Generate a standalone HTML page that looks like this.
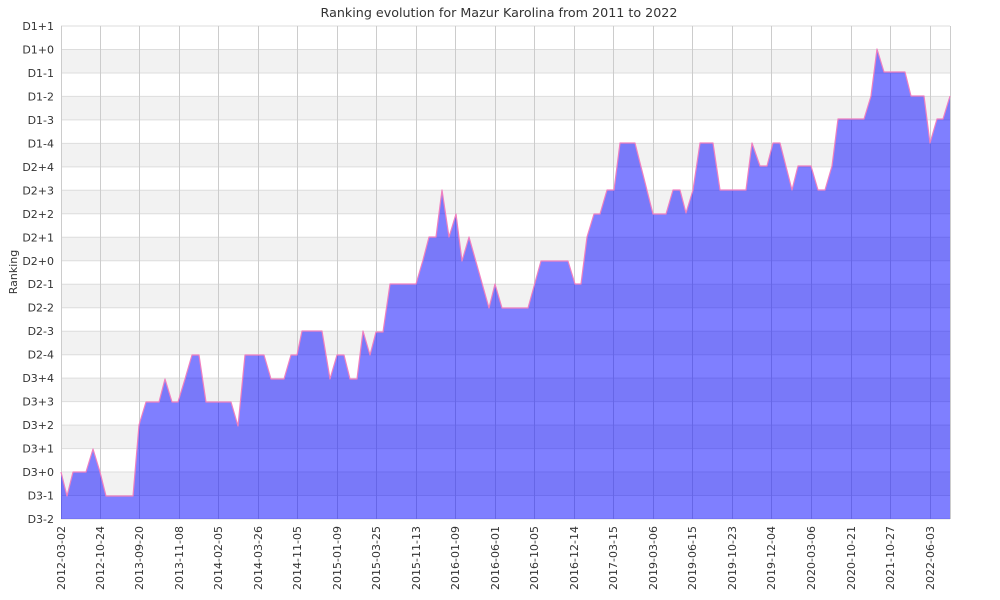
<!DOCTYPE html>
<html><head><meta charset="utf-8"><style>body{margin:0;background:#fff}svg{display:block;font-family:"DejaVu Sans",sans-serif}</style></head><body>
<svg width="1000" height="600" xmlns="http://www.w3.org/2000/svg">
<rect width="1000" height="600" fill="#fff"/>
<text x="499" y="17" font-size="12.7" text-anchor="middle" fill="#333">Ranking evolution for Mazur Karolina from 2011 to 2022</text>
<g fill="#f2f2f2">
<rect x="61" y="49.5" width="889" height="23.5"/><rect x="61" y="96.4" width="889" height="23.5"/><rect x="61" y="143.4" width="889" height="23.5"/><rect x="61" y="190.3" width="889" height="23.5"/><rect x="61" y="237.3" width="889" height="23.5"/><rect x="61" y="284.2" width="889" height="23.5"/><rect x="61" y="331.2" width="889" height="23.5"/><rect x="61" y="378.1" width="889" height="23.5"/><rect x="61" y="425.1" width="889" height="23.5"/><rect x="61" y="472" width="889" height="23.5"/>
</g>
<g stroke="#ddd" stroke-width="1">
<path d="M61 26H950M61 49.5H950M61 73H950M61 96.4H950M61 119.9H950M61 143.4H950M61 166.9H950M61 190.3H950M61 213.8H950M61 237.3H950M61 260.8H950M61 284.2H950M61 307.7H950M61 331.2H950M61 354.7H950M61 378.1H950M61 401.6H950M61 425.1H950M61 448.6H950M61 472H950M61 495.5H950M61 519H950"/>
</g>
<g stroke="#ccc" stroke-width="1">
<path d="M61.5 26V519M100.5 26V519M139.5 26V519M179.5 26V519M218.5 26V519M258.5 26V519M297.5 26V519M337.5 26V519M376.5 26V519M416.5 26V519M455.5 26V519M495.5 26V519M534.5 26V519M574.5 26V519M613.5 26V519M653.5 26V519M692.5 26V519M732.5 26V519M771.5 26V519M811.5 26V519M851.5 26V519M890.5 26V519M930.5 26V519M950.5 26V519"/>
</g>
<polygon fill="rgba(0,0,255,0.5)" stroke="none" points="61,519 61,472 67,496 73,472 86,472 93,449 100,472 106,496 133,496 139,425 146,402 159,402 165,379 172,402 178,402 185,379 192,355 199,355 206,402 231,402 238,426 245,355 264,355 271,379 284,379 291,355 297,355 302,331 322,331 330,379 337,355 344,355 350,379 357,379 363,331 370,355 376,332 383,332 390,284 416,284 423,260 429,237 436,237 442,190 449,237 456,214 462,261 469,237 489,308 495,284 502,308 528,308 541,261 568,261 575,284 581,284 587,237 594,214 600,214 607,190 614,190 620,143 635,143 653,214 666,214 673,190 680,190 686,213 693,190 700,143 713,143 720,190 746,190 752,143 760,166 767,166 773,143 780,143 792,190 798,166 811,166 818,190 825,190 832,166 838,119 864,119 871,96 877,49 884,72 905,72 911,96 924,96 930,143 937,119 943,119 950,96 950,519"/>
<polyline fill="none" stroke="#f080c0" stroke-width="1.2" stroke-linejoin="round" points="61,472 67,496 73,472 86,472 93,449 100,472 106,496 133,496 139,425 146,402 159,402 165,379 172,402 178,402 185,379 192,355 199,355 206,402 231,402 238,426 245,355 264,355 271,379 284,379 291,355 297,355 302,331 322,331 330,379 337,355 344,355 350,379 357,379 363,331 370,355 376,332 383,332 390,284 416,284 423,260 429,237 436,237 442,190 449,237 456,214 462,261 469,237 489,308 495,284 502,308 528,308 541,261 568,261 575,284 581,284 587,237 594,214 600,214 607,190 614,190 620,143 635,143 653,214 666,214 673,190 680,190 686,213 693,190 700,143 713,143 720,190 746,190 752,143 760,166 767,166 773,143 780,143 792,190 798,166 811,166 818,190 825,190 832,166 838,119 864,119 871,96 877,49 884,72 905,72 911,96 924,96 930,143 937,119 943,119 950,96"/>
<g font-size="11" fill="#333" text-anchor="end">
<text x="54" y="30">D1+1</text><text x="54" y="53.5">D1+0</text><text x="54" y="77">D1-1</text><text x="54" y="100.4">D1-2</text><text x="54" y="123.9">D1-3</text><text x="54" y="147.4">D1-4</text><text x="54" y="170.9">D2+4</text><text x="54" y="194.3">D2+3</text><text x="54" y="217.8">D2+2</text><text x="54" y="241.3">D2+1</text><text x="54" y="264.8">D2+0</text><text x="54" y="288.2">D2-1</text><text x="54" y="311.7">D2-2</text><text x="54" y="335.2">D2-3</text><text x="54" y="358.7">D2-4</text><text x="54" y="382.1">D3+4</text><text x="54" y="405.6">D3+3</text><text x="54" y="429.1">D3+2</text><text x="54" y="452.6">D3+1</text><text x="54" y="476">D3+0</text><text x="54" y="499.5">D3-1</text><text x="54" y="523">D3-2</text>
</g>
<text transform="translate(17,272) rotate(-90)" font-size="11" fill="#333" text-anchor="middle">Ranking</text>
<g font-size="11" fill="#333" text-anchor="end">
<text transform="translate(65,526) rotate(-90)">2012-03-02</text>
<text transform="translate(104,526) rotate(-90)">2012-10-24</text>
<text transform="translate(143,526) rotate(-90)">2013-09-20</text>
<text transform="translate(183,526) rotate(-90)">2013-11-08</text>
<text transform="translate(222,526) rotate(-90)">2014-02-05</text>
<text transform="translate(262,526) rotate(-90)">2014-03-26</text>
<text transform="translate(301,526) rotate(-90)">2014-11-05</text>
<text transform="translate(341,526) rotate(-90)">2015-01-09</text>
<text transform="translate(380,526) rotate(-90)">2015-03-25</text>
<text transform="translate(420,526) rotate(-90)">2015-11-13</text>
<text transform="translate(459,526) rotate(-90)">2016-01-09</text>
<text transform="translate(499,526) rotate(-90)">2016-06-01</text>
<text transform="translate(538,526) rotate(-90)">2016-10-05</text>
<text transform="translate(578,526) rotate(-90)">2016-12-14</text>
<text transform="translate(617,526) rotate(-90)">2017-03-15</text>
<text transform="translate(657,526) rotate(-90)">2019-03-06</text>
<text transform="translate(696,526) rotate(-90)">2019-06-15</text>
<text transform="translate(736,526) rotate(-90)">2019-10-23</text>
<text transform="translate(775,526) rotate(-90)">2019-12-04</text>
<text transform="translate(815,526) rotate(-90)">2020-03-06</text>
<text transform="translate(855,526) rotate(-90)">2020-10-21</text>
<text transform="translate(894,526) rotate(-90)">2021-10-27</text>
<text transform="translate(934,526) rotate(-90)">2022-06-03</text>
</g>
</svg>
</body></html>
